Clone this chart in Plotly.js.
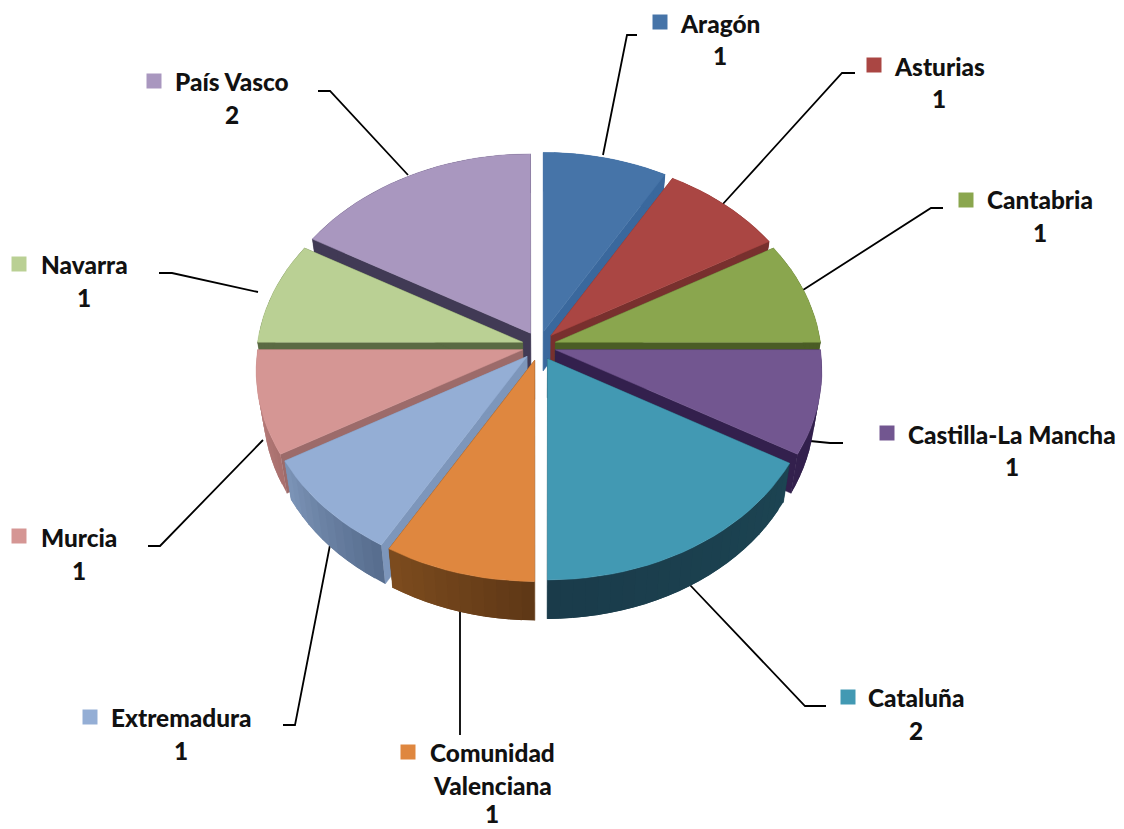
<!DOCTYPE html>
<html>
<head>
<meta charset="utf-8">
<script src="https://cdn.plot.ly/plotly-3.0.1.min.js"></script>
<style>html,body{margin:0;padding:0;background:#fff}#chart{width:1124px;height:829px}</style>
</head>
<body>
<div id="chart"></div>
<script>
// ---- data ----
const categories = ['Aragón','Asturias','Cantabria','Castilla-La Mancha','Cataluña','Comunidad Valenciana','Extremadura','Murcia','Navarra','País Vasco'];
const values = [1,1,1,1,2,1,1,1,1,2];

// ---- styles ----
const topColors  = ['#4674a8','#aa4643','#8aa64e','#725690','#4299b3','#df873f','#94aed5','#d59694','#bad094','#a997bf'];
const cutColors  = ['#3a689d','#78302e','#4a5d25','#33204d','#1b3f4d','#6d4219','#7d96bb','#9c6b6a','#5a6a43','#413a55'];
const sideStart  = ['#3a689d','#78302e','#4a5d25','#33204d','#1c4452','#5e3716','#566c8d','#a86f6d','#5a6a43','#413a55'];
const sideEnd    = ['#3a689d','#78302e','#4a5d25','#33204d','#1a3b4a','#7d4c1e','#7d95b8','#c08583','#5a6a43','#413a55'];
const paintOrder = [0,9,1,8,2,7,3,6,4,5];

// ---- layout positions (page pixels) ----
const nameXY = [[720,23],[939,66],[1040,199],[1012,434],[916,697],null,[181,717],[79,537],[84,264],[232,81]];
const valueXY = [[720,55],[939,98],[1040,232],[1012,466],[916,730],[492,813],[181,750],[79,570],[84,297],[232,114]];
const cvLines = [['Comunidad',492,752],['Valenciana',492,785]];
const keyX = [660,874,966,887,848,408,90,19,19,154];
const keyY = [22,65,200,433,697,752,717,536,264,81];
const leaderX = [[603,627,637],[722,842,855],[803,931,943],[810,830,843],[690,805,826],[460,460],[330,295,283],[263,160,148],[258,172,159],[408,330,318]];
const leaderY = [[155,35,35],[205,73,73],[290,208,208],[441,443,443],[585,706,706],[610,735],[545,725,725],[440,546,546],[292,273,273],[175,91,91]];

// ---- projection of the tilted, exploded disc ----
const CX = 539, CY = 346, RX = 265, RY = 198, K = 0.1045, EXPLODE = 17, TILT = 0.87, DEPTH = 39, BOTTOM_SHRINK = 0.975;
function rim(a, ox, oy) {
  const v = -Math.cos(a), s = 1 / (1 - K * v);
  return [ox + RX * Math.sin(a) * s, oy + RY * v * s];
}
function below(p) { return [CX + (p[0] - CX) * BOTTOM_SHRINK, p[1] + DEPTH]; }
function hex2(c) { return [1,3,5].map(i => parseInt(c.substr(i,2),16)); }
function mix(a,b,t) { const A=hex2(a),B=hex2(b); return 'rgb('+A.map((x,i)=>Math.round(x+(B[i]-x)*t)).join(',')+')'; }
function poly(pts, color, lineWidth) {
  const closed = pts.concat([pts[0]]);
  return {type:'scatter', mode:'lines', x:closed.map(p=>p[0]), y:closed.map(p=>p[1]),
    fill:'toself', fillcolor:color, line:{color:color,width:lineWidth}, hoverinfo:'skip', showlegend:false};
}

const total = values.reduce((a,b)=>a+b,0);
let acc = 0;
const slices = values.map(v => { const a0 = acc/total*2*Math.PI; acc += v; return [a0, acc/total*2*Math.PI]; });

const traces = [];
// leader lines
leaderX.forEach((xs,i) => traces.push({type:'scatter',mode:'lines',x:xs,y:leaderY[i],
  line:{color:'#000',width:1.8},hoverinfo:'skip',showlegend:false}));

// slices, back to front
paintOrder.forEach(i => {
  const [a0,a1] = slices[i], mid=(a0+a1)/2;
  const ox = CX + EXPLODE*Math.sin(mid), oy = CY - TILT*EXPLODE*Math.cos(mid);
  const apex=[ox,oy];
  const N = 12*values[i];
  const arc=[]; for(let k=0;k<=N;k++) arc.push(rim(a0+(a1-a0)*k/N,ox,oy));
  traces.push(poly([apex,arc[0],below(arc[0]),below(apex)],cutColors[i],0.5));
  traces.push(poly([apex,arc[N],below(arc[N]),below(apex)],cutColors[i],0.5));
  // outer wall: each band overlaps the next so that no seams show
  for(let k=0;k<N;k++){
    const e=Math.min(k+2,N);
    const band=[]; for(let j=k;j<=e;j++) band.push(arc[j]);
    const low=[]; for(let j=e;j>=k;j--) low.push(below(arc[j]));
    traces.push(poly(band.concat(low),mix(sideStart[i],sideEnd[i],(k+0.5)/N),0));
  }
  traces.push(poly([apex].concat(arc),topColors[i],0.5));
});

// legend keys
traces.push({type:'scatter',mode:'markers',x:keyX,y:keyY,text:categories,hoverinfo:'text',
  marker:{symbol:'square',size:15,color:topColors,line:{width:0}},showlegend:false});

const FONT = {family:'Lato, Carlito, sans-serif',size:24.4,weight:900,color:'#111'};
function note(text,xy){ return {text:text,x:xy[0],y:xy[1],xref:'x',yref:'y',showarrow:false,
  xanchor:'center',yanchor:'middle',font:FONT}; }
const annotations=[];
categories.forEach((c,i)=>{
  if(nameXY[i]) annotations.push(note(c,nameXY[i]));
  annotations.push(note(String(values[i]),valueXY[i]));
});
cvLines.forEach(l=>annotations.push(note(l[0],[l[1],l[2]])));

Plotly.newPlot('chart',traces,{
  width:1124,height:829,margin:{l:0,r:0,t:0,b:0},
  paper_bgcolor:'#fff',plot_bgcolor:'#fff',showlegend:false,
  xaxis:{range:[0,1124],visible:false,fixedrange:true},
  yaxis:{range:[829,0],visible:false,fixedrange:true},
  annotations:annotations
},{displayModeBar:false,staticPlot:true});
</script>
</body>
</html>
